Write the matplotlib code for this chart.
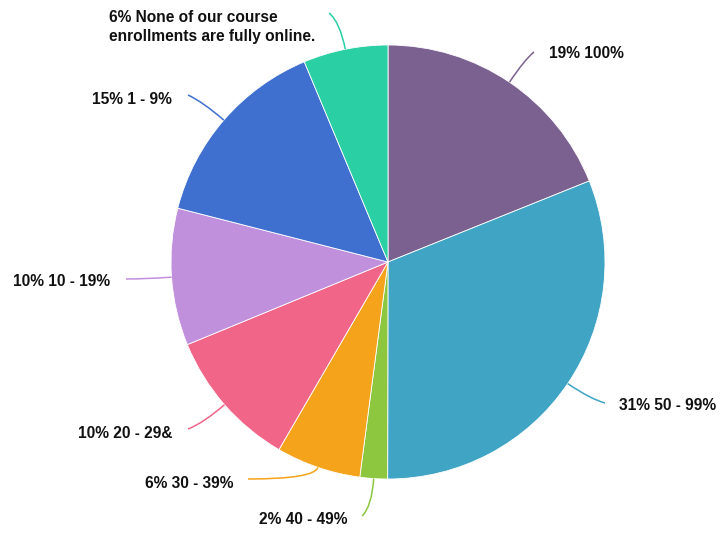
import numpy as np
import matplotlib
matplotlib.use("Agg")
import matplotlib.pyplot as plt
from matplotlib.path import Path
from matplotlib.patches import PathPatch

categories = ["100%", "50 - 99%", "40 - 49%", "30 - 39%", "20 - 29&",
              "10 - 19%", "1 - 9%", "None of our course\nenrollments are fully online."]
values = [18.9, 31.1, 2.05, 6.3, 10.4, 10.2, 14.7, 6.3]
pct_labels = ["19%", "31%", "2%", "6%", "10%", "10%", "15%", "6%"]
colors = ["#7B6190", "#40A4C4", "#8DC63F", "#F5A31B", "#F06588",
          "#C190DD", "#3F6FCF", "#2BCFA4"]

W, H = 722, 535
CX, CY, R = 388, 262, 217

def px(x, y):
    return ((x - CX) / R, (CY - y) / R)

fig = plt.figure(figsize=(W / 100, H / 100), dpi=100)
ax = fig.add_axes([0, 0, 1, 1])

wedges, _ = ax.pie(values, colors=colors, startangle=90, counterclock=False,
                   radius=1, center=(0, 0),
                   wedgeprops=dict(edgecolor="white", linewidth=0.6))
ax.set_xlim(-CX / R, (W - CX) / R)
ax.set_ylim(-(H - CY) / R, CY / R)
ax.set_aspect("equal")
ax.axis("off")

# leader end points and label anchors (pixel coordinates)
ends = [(534, 52), (605, 403), (362, 516), (248, 479), (188, 429),
        (126, 279), (188, 95), (329, 13)]
text_pos = [(549, 54, "left"), (619, 406, "left"), (347, 519, "right"),
            (233, 483, "right"), (172, 433, "right"), (110, 282, "right"),
            (172, 100, "right"), (315, 27, "right")]

for w, col, e, tp, p, c in zip(wedges, colors, ends, text_pos, pct_labels, categories):
    mid = np.deg2rad((w.theta1 + w.theta2) / 2)
    p0 = (np.cos(mid), np.sin(mid))
    p2 = px(*e)
    t = 1.13
    if abs(np.sin(mid)) > 1e-6:
        tt = p2[1] / np.sin(mid)
        if 1.0 < tt < 1.13:
            t = tt
    p1 = (t * np.cos(mid), t * np.sin(mid))
    path = Path([p0, p1, p2], [Path.MOVETO, Path.CURVE3, Path.CURVE3])
    ax.add_patch(PathPatch(path, facecolor="none", edgecolor=col, lw=1.1))
    x, y = px(tp[0], tp[1])
    ax.text(x, y, f"{p} {c}", ha=tp[2], va="center", fontsize=11.2,
            fontweight="bold", family="Liberation Sans", color="#111111",
            multialignment="left", linespacing=1.4)

fig.savefig("out.png", dpi=100)
